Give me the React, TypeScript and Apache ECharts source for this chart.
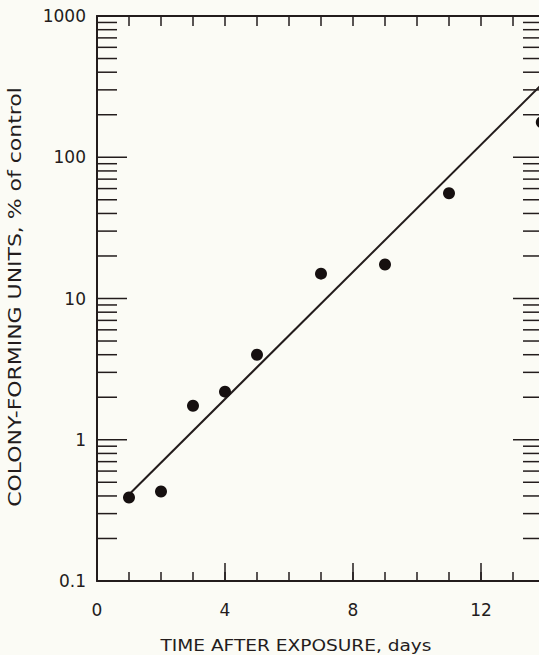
import React, { useEffect, useRef } from "react";
import * as echarts from "echarts";

const days = [1, 2, 3, 4, 5, 7, 9, 11, 13.9];
const cfuPercent = [0.39, 0.43, 1.74, 2.19, 4.0, 15.0, 17.4, 55.6, 177];
const fitLine = [
  [1, 0.41],
  [14, 346],
];
const xMajorTicks = [0, 4, 8, 12];
const yTickLabels = ["0.1", "1", "10", "100", "1000"];
const majorLogValues = [0.1, 1, 10, 100, 1000];
const minorLogValues = [
  0.2, 0.3, 0.4, 0.5, 0.6, 0.7, 0.8, 0.9,
  2, 3, 4, 5, 6, 7, 8, 9,
  20, 30, 40, 50, 60, 70, 80, 90,
  200, 300, 400, 500, 600, 700, 800, 900,
];
const xTitle = "TIME AFTER EXPOSURE, days";
const yTitle = "COLONY-FORMING UNITS, % of control";

const INK = "#231c1c";
const FONT = "DejaVu Sans";

export default function App() {
  const ref = useRef<HTMLDivElement>(null);
  useEffect(() => {
    if (!ref.current) return;
    const chart = echarts.init(ref.current, null, { renderer: "svg" });
    const axisLine = { show: true, lineStyle: { color: INK, width: 2 } };
    const tickSeries = (x: number, values: number[], len: number, dir: number) => ({
      type: "scatter",
      clip: false,
      silent: true,
      symbol: "rect",
      symbolSize: [len, 1.5],
      symbolOffset: [(dir * len) / 2, 0],
      itemStyle: { color: INK, opacity: 1 },
      data: values.map((v) => [x, v]),
      z: 3,
    });
    chart.setOption({
      animation: false,
      backgroundColor: "#fbfbf5",
      grid: { left: 97, top: 16, right: -6, bottom: 74, outerBoundsMode: "none", containLabel: false },
      xAxis: [
        {
          type: "value",
          position: "bottom",
          min: 0,
          max: 14,
          interval: 4,
          axisLine,
          axisTick: { show: true, inside: true, length: 18, lineStyle: { color: INK, width: 1.5 } },
          axisLabel: {
            margin: 20,
            fontFamily: FONT,
            fontSize: 17,
            color: INK,
            formatter: (v: number) => (xMajorTicks.includes(v) ? String(v) : ""),
          },
          splitLine: { show: false },
        },
        {
          type: "value",
          position: "bottom",
          min: 0,
          max: 14,
          interval: 1,
          axisLine: { show: false },
          axisTick: { show: true, inside: true, length: 9, lineStyle: { color: INK, width: 1.5 } },
          axisLabel: { show: false },
          splitLine: { show: false },
        },
        {
          type: "value",
          position: "top",
          min: 0,
          max: 14,
          interval: 1,
          axisLine,
          axisTick: { show: true, inside: true, length: 10, lineStyle: { color: INK, width: 1.5 } },
          axisLabel: { show: false },
          splitLine: { show: false },
        },
      ],
      yAxis: [
        {
          type: "log",
          logBase: 10,
          position: "left",
          min: 0.1,
          max: 1000,
          axisLine,
          axisTick: { show: false },
          axisLabel: {
            margin: 11,
            fontFamily: FONT,
            fontSize: 17,
            color: INK,
            formatter: (v: number) => {
              const s = yTickLabels.find((t) => Math.abs(parseFloat(t) - v) < 1e-6 * Math.max(1, v));
              return s ?? "";
            },
          },
          splitLine: { show: false },
        },
      ],
      graphic: [
        {
          type: "text",
          x: 296,
          y: 645,
          scaleX: 1.16,
          style: {
            text: xTitle,
            fontFamily: FONT,
            fontSize: 16,
            fill: INK,
            align: "center",
            verticalAlign: "middle",
          },
        },
        {
          type: "text",
          x: 15,
          y: 297,
          rotation: Math.PI / 2,
          scaleX: 1.22,
          style: {
            text: yTitle,
            fontFamily: FONT,
            fontSize: 18,
            fill: INK,
            align: "center",
            verticalAlign: "middle",
          },
        },
      ],
      series: [
        tickSeries(0, minorLogValues, 20, 1),
        tickSeries(0, majorLogValues.slice(1, 4), 30, 1),
        tickSeries(14, minorLogValues, 22, -1),
        tickSeries(14, majorLogValues.slice(1, 4), 32, -1),
        {
          type: "line",
          data: fitLine,
          symbol: "none",
          lineStyle: { color: INK, width: 2 },
          z: 4,
        },
        {
          type: "scatter",
          data: days.map((d, i) => [d, cfuPercent[i]]),
          symbol: "circle",
          symbolSize: 12,
          itemStyle: { color: "#161010", opacity: 1 },
          clip: false,
          z: 5,
        },
      ],
    });
    return () => chart.dispose();
  }, []);
  return (
    <div
      ref={ref}
      style={{ position: "absolute", left: 0, top: 0, width: 539, height: 655 }}
    />
  );
}
